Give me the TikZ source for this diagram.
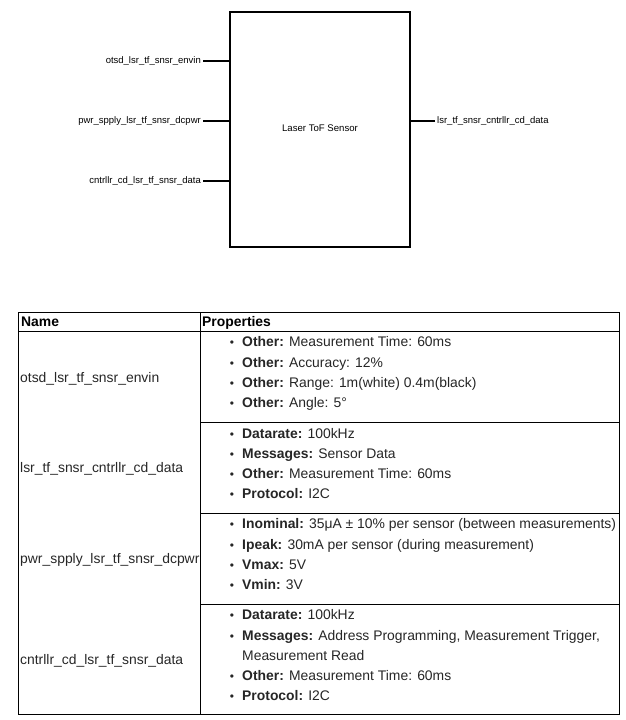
\documentclass[tikz,border=0pt]{standalone}
\usepackage{fontspec}
\setmainfont{Liberation Sans}
\begin{document}
\begin{tikzpicture}[x=1pt,y=-1pt,
  stub/.style={line width=2pt},
  plabel/.style={font=\fontsize{9.5}{11}\selectfont, inner sep=2pt},
  tline/.style={line width=1pt},
  ttext/.style={font=\fontsize{13.9}{16}\selectfont, inner sep=0pt, anchor=base west, text=black!85},
  bul/.style={font=\fontsize{12}{14}\selectfont, inner sep=0pt, anchor=base, text=black!85}
]
\useasboundingbox (0,0) rectangle (625,720);
% ---------- block diagram ----------
\node[draw, line width=2pt, minimum width=180pt, minimum height=235pt, anchor=north west,
      font=\fontsize{9.6}{11}\selectfont, text depth=2pt] (box) at (229,11) {Laser ToF Sensor};
\node[plabel, anchor=east] (l1) at (203,61) {otsd\_lsr\_tf\_snsr\_envin};
\node[plabel, anchor=east] (l2) at (203,121) {pwr\_spply\_lsr\_tf\_snsr\_dcpwr};
\node[plabel, anchor=east] (l3) at (203,181) {cntrllr\_cd\_lsr\_tf\_snsr\_data};
\node[plabel, anchor=west] (r1) at (435,121) {lsr\_tf\_snsr\_cntrllr\_cd\_data};
\draw[stub] (l1.east) -- (l1.east -| box.west);
\draw[stub] (l2.east) -- (l2.east -| box.west);
\draw[stub] (l3.east) -- (l3.east -| box.west);
\draw[stub] (r1.west) -- (r1.west -| box.east);
% ---------- table ----------
\draw[tline] (18,312) rectangle (619,714);
\draw[tline] (200,312) -- (200,714);
\draw[tline] (18,331) -- (619,331);
\draw[tline] (200,422) -- (619,422);
\draw[tline] (200,513) -- (619,513);
\draw[tline] (200,604) -- (619,604);
\node[ttext, text=black] (hname) at (21,326) {\textbf{Name}};
\node[ttext, text=black] (hprop) at (202,326) {\textbf{Properties}};
% names
\node[ttext] (n1) at (20,382) {otsd\_lsr\_tf\_snsr\_envin};
\node[ttext] (n2) at (20,472) {lsr\_tf\_snsr\_cntrllr\_cd\_data};
\node[ttext] (n3) at (20,563) {pwr\_spply\_lsr\_tf\_snsr\_dcpwr};
\node[ttext] (n4) at (20,664) {cntrllr\_cd\_lsr\_tf\_snsr\_data};
% row 1
\node[bul] (b11) at (232,346) {•}; \node[ttext] (t11) at (242,346) {\textbf{Other:} Measurement Time: 60ms};
\node[bul] (b12) at (232,367) {•}; \node[ttext] (t12) at (242,367) {\textbf{Other:} Accuracy: 12\%};
\node[bul] (b13) at (232,387) {•}; \node[ttext] (t13) at (242,387) {\textbf{Other:} Range: 1m(white) 0.4m(black)};
\node[bul] (b14) at (232,407) {•}; \node[ttext] (t14) at (242,407) {\textbf{Other:} Angle: 5°};
% row 2
\node[bul] (b21) at (232,438) {•}; \node[ttext] (t21) at (242,438) {\textbf{Datarate:} 100kHz};
\node[bul] (b22) at (232,458) {•}; \node[ttext] (t22) at (242,458) {\textbf{Messages:} Sensor Data};
\node[bul] (b23) at (232,478) {•}; \node[ttext] (t23) at (242,478) {\textbf{Other:} Measurement Time: 60ms};
\node[bul] (b24) at (232,498) {•}; \node[ttext] (t24) at (242,498) {\textbf{Protocol:} I2C};
% row 3
\node[bul] (b31) at (232,528) {•}; \node[ttext] (t31) at (242,528) {\textbf{Inominal:} 35μA ± 10\% per sensor (between measurements)};
\node[bul] (b32) at (232,549) {•}; \node[ttext] (t32) at (242,549) {\textbf{Ipeak:} 30mA per sensor (during measurement)};
\node[bul] (b33) at (232,569) {•}; \node[ttext] (t33) at (242,569) {\textbf{Vmax:} 5V};
\node[bul] (b34) at (232,589) {•}; \node[ttext] (t34) at (242,589) {\textbf{Vmin:} 3V};
% row 4
\node[bul] (b41) at (232,619) {•}; \node[ttext] (t41) at (242,619) {\textbf{Datarate:} 100kHz};
\node[bul] (b42) at (232,640) {•}; \node[ttext] (t42) at (242,640) {\textbf{Messages:} Address Programming, Measurement Trigger,};
\node[ttext] (t42b) at (242,660) {Measurement Read};
\node[bul] (b43) at (232,680) {•}; \node[ttext] (t43) at (242,680) {\textbf{Other:} Measurement Time: 60ms};
\node[bul] (b44) at (232,700) {•}; \node[ttext] (t44) at (242,700) {\textbf{Protocol:} I2C};
\end{tikzpicture}
\end{document}
